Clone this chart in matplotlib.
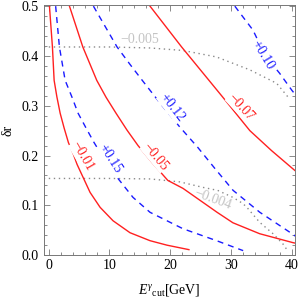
import numpy as np
import matplotlib.pyplot as plt
from matplotlib.ticker import MultipleLocator

plt.rcParams['font.family'] = ['Liberation Serif', 'DejaVu Serif']
plt.rcParams['mathtext.fontset'] = 'custom'
plt.rcParams['mathtext.rm'] = 'Liberation Serif'
plt.rcParams['mathtext.it'] = 'Liberation Serif:italic'

# contour curves: E_cut [GeV] vs delta r
red_m001_E = [0.13, 0.62, 0.90, 1.35, 1.89, 2.55, 3.25, 4.02, 4.68, 5.67, 6.81, 8.46,
              10.59, 13.38, 16.67, 19.46, 23.07]
red_m001_r = [0.5, 0.418, 0.351, 0.318, 0.285, 0.255, 0.226, 0.204, 0.182, 0.156, 0.126,
              0.096, 0.069, 0.045, 0.029, 0.020, 0.011]

red_m005_E = [3.42, 5.62, 7.91, 9.44, 11.08, 12.89, 14.70, 17.0, 19.6, 22.1, 24.9, 27.7,
              30.3, 34.7, 40.2, 40.6]
red_m005_r = [0.5, 0.418, 0.351, 0.317, 0.285, 0.251, 0.220, 0.186, 0.150, 0.134, 0.110,
              0.086, 0.065, 0.043, 0.025, 0.024]

red_m007_E = [16.67, 21.87, 28.65, 33.09, 36.65, 40.2, 40.6]
red_m007_r = [0.5, 0.418, 0.317, 0.250, 0.210, 0.173, 0.169]

blue_015_E = [1.15, 1.77, 2.71, 3.81, 4.84, 6.16, 7.47, 9.28, 11.2, 13.87, 16.67, 22.09,
              27.62, 31.99]
blue_015_r = [0.5, 0.418, 0.351, 0.318, 0.285, 0.255, 0.226, 0.190, 0.157, 0.116, 0.086,
              0.053, 0.029, 0.009]

blue_012_E = [7.36, 11.25, 13.38, 15.52, 18.47, 21.59, 24.55, 27.34, 30.34, 34.73, 39.66, 40.6]
blue_012_r = [0.5, 0.418, 0.383, 0.349, 0.303, 0.257, 0.216, 0.174, 0.130, 0.086, 0.046, 0.038]

blue_010_E = [30.62, 32.1, 33.6, 35.6, 38.0, 40.0, 40.6]
blue_010_r = [0.5, 0.476, 0.452, 0.401, 0.365, 0.331, 0.322]

gray_m0005_E = [-0.8, 10.0, 16.7, 22.1, 27.6, 33.1, 37.5, 39.4]
gray_m0005_r = [0.418, 0.418, 0.416, 0.411, 0.398, 0.372, 0.345, 0.317]

gray_m0004_E = [-0.8, 10.0, 16.7, 21.6, 25.4, 27.8, 30.3, 31.9, 32.6, 34.7, 36.9, 38.5, 39.3]
gray_m0004_r = [0.154, 0.154, 0.153, 0.147, 0.136, 0.130, 0.116, 0.104, 0.096, 0.066, 0.043,
                0.023, 0.009]

# contour labels: text, E, delta r, angle
red_labels = [('\u22120.01', 5.5, 0.198, -60), ('\u22120.05', 17.5, 0.198, -50),
              ('\u22120.07', 31.6, 0.297, -47)]
blue_labels = [('+0.15', 10.1, 0.194, -57), ('+0.12', 20.2, 0.297, -52),
               ('+0.10', 35.2, 0.401, -59)]
gray_labels = [('\u22120.005', 15.0, 0.434, 0), ('\u22120.004', 27.0, 0.112, -20)]

fig = plt.figure(figsize=(3.0, 3.03), dpi=100)
ax = fig.add_axes([0.147, 0.158, 0.836, 0.825])

dash = (0, (4.3, 3.6))
dots = (0, (1.0, 2.6))
ax.plot(gray_m0005_E, gray_m0005_r, color='#8a8a8a', lw=1.0, ls=dots)
ax.plot(gray_m0004_E, gray_m0004_r, color='#8a8a8a', lw=1.0, ls=dots)
for xs, ys in [(red_m001_E, red_m001_r), (red_m005_E, red_m005_r), (red_m007_E, red_m007_r)]:
    ax.plot(xs, ys, color='#ff2020', lw=1.0)
for xs, ys in [(blue_015_E, blue_015_r), (blue_012_E, blue_012_r), (blue_010_E, blue_010_r)]:
    ax.plot(xs, ys, color='#1a1aff', lw=1.0, ls=dash)

bbox = dict(facecolor='white', edgecolor='none', pad=0.3)
for t, x, y, a in red_labels:
    ax.text(x, y, t, color='#ff2020', fontsize=10, rotation=a, ha='center', va='center',
            rotation_mode='anchor', bbox=bbox)
for t, x, y, a in blue_labels:
    ax.text(x, y, t, color='#1a1aff', fontsize=10, rotation=a, ha='center', va='center',
            rotation_mode='anchor', bbox=bbox)
for t, x, y, a in gray_labels:
    ax.text(x, y, t, color='#c4c4c4', fontsize=10, rotation=a, ha='center', va='center',
            rotation_mode='anchor')

ax.set_xlim(-0.75, 40.5)
ax.set_ylim(0, 0.502)
ax.xaxis.set_major_locator(MultipleLocator(10))
ax.xaxis.set_minor_locator(MultipleLocator(2))
ax.yaxis.set_major_locator(MultipleLocator(0.1))
ax.yaxis.set_minor_locator(MultipleLocator(0.02))
ax.yaxis.set_major_formatter(plt.FormatStrFormatter('%.1f'))
ax.tick_params(which='both', direction='in', top=True, right=True, color='#777777',
               labelsize=10, width=0.6)
ax.tick_params(which='major', length=4.5)
ax.tick_params(which='minor', length=2.5)
ax.tick_params(axis='y', pad=4)
ax.tick_params(axis='x', pad=3)
for s in ax.spines.values():
    s.set_color('#777777')
    s.set_linewidth(0.7)

ax.set_xlabel(r'$E^{\gamma}{}_{\rm cut}$[GeV]', fontsize=10, labelpad=7)
ax.set_ylabel('\u03b4r', fontsize=10, labelpad=5)

fig.savefig('out.png', dpi=100)
